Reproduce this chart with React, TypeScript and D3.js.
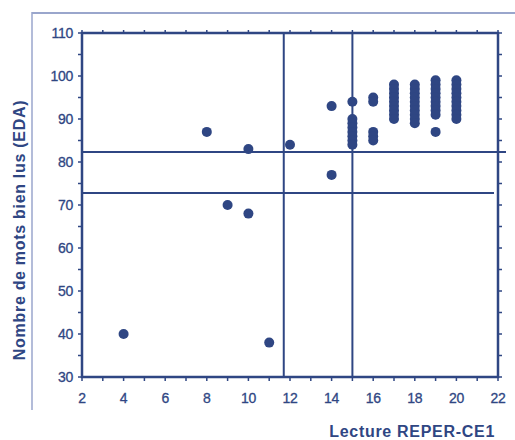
import React from "react";
import * as d3 from "d3";

const width = 515;
const height = 440;
const margin = { top: 33, right: 16, bottom: 63, left: 82 };
const navy = "#2f4683";
const frame = "#9aa6cc";

// [lecture REPER-CE1 score, nombre de mots bien lus]
const isolated: [number, number][] = [
  [4, 40], [8, 87], [9, 70], [10, 83], [10, 68], [11, 38], [12, 84], [14, 93], [14, 77],
  [19, 87],
];
const col15 = [94, 90, 89, 88, 87, 86, 85, 84];
const col16 = [95, 94, 87, 86, 85];
const col17 = [98, 97, 96, 95, 94, 93, 92, 91, 90];
const col18 = [98, 97, 96, 95, 94, 93, 92, 91, 90, 89];
const col19 = [99, 98, 97, 96, 95, 94, 93, 92, 91];
const col20 = [99, 98, 97, 96, 95, 94, 93, 92, 91, 90];

const xTicks = [2, 4, 6, 8, 10, 12, 14, 16, 18, 20, 22];
const yTicks = [30, 40, 50, 60, 70, 80, 90, 100, 110];
const cutX = [11.7, 15];
const cutY = [82.3, 72.8];

const points: [number, number][] = [
  ...isolated,
  ...col15.map((v) => [15, v] as [number, number]),
  ...col16.map((v) => [16, v] as [number, number]),
  ...col17.map((v) => [17, v] as [number, number]),
  ...col18.map((v) => [18, v] as [number, number]),
  ...col19.map((v) => [19, v] as [number, number]),
  ...col20.map((v) => [20, v] as [number, number]),
];

export default function App() {
  const x = d3.scaleLinear().domain([2, 22]).range([margin.left, width - margin.right - 1]);
  const y = d3.scaleLinear().domain([30, 110]).range([height - margin.bottom, margin.top]);
  const x0 = x(2), x1 = x(22), y0 = y(30), y1 = y(110);
  const xMinor = d3.range(2, 23, 1);
  const yMinor = d3.range(30, 111, 5);
  const font = "'Liberation Sans', Arial, sans-serif";

  return (
    <svg width={width} height={height} style={{ position: "absolute", left: 0, top: 0 }}>
      <rect width={width} height={height} fill="#fff" />
      {/* outer frame */}
      <line x1={32} x2={515} y1={13} y2={13} stroke={frame} strokeWidth={2} />
      <line x1={32} x2={32} y1={12} y2={410} stroke={frame} strokeWidth={1.5} />

      {/* ticks */}
      {xMinor.map((t) => (
        <g key={"xt" + t}>
          <line x1={x(t)} x2={x(t)} y1={y0} y2={y0 + 4} stroke={navy} strokeWidth={1.5} />
          <line x1={x(t)} x2={x(t)} y1={y1} y2={y1 - 3} stroke={navy} strokeWidth={1.5} />
        </g>
      ))}
      {yMinor.map((t) => (
        <g key={"yt" + t}>
          <line x1={x0} x2={x0 - 4} y1={y(t)} y2={y(t)} stroke={navy} strokeWidth={1.5} />
          <line x1={x1} x2={x1 + 4} y1={y(t)} y2={y(t)} stroke={navy} strokeWidth={1.5} />
        </g>
      ))}

      {/* reference lines */}
      {cutX.map((c) => (
        <line key={"cx" + c} x1={x(c)} x2={x(c)} y1={y1} y2={y0} stroke={navy} strokeWidth={2} />
      ))}
      <line x1={x0} x2={x1 + 8} y1={y(cutY[0])} y2={y(cutY[0])} stroke={navy} strokeWidth={2} />
      <line x1={x0} x2={x1 - 4} y1={y(cutY[1])} y2={y(cutY[1])} stroke={navy} strokeWidth={2} />

      {/* plot frame */}
      <rect x={x0} y={y1} width={x1 - x0} height={y0 - y1} fill="none" stroke={navy} strokeWidth={2.5} />

      {/* points */}
      {points.map(([a, b], i) => (
        <circle key={i} cx={x(a)} cy={y(b)} r={5} fill={navy} />
      ))}

      {/* tick labels */}
      {xTicks.map((t) => (
        <text key={"xl" + t} x={x(t)} y={y0 + 26} textAnchor="middle" fontFamily={font}
          fontSize={14} letterSpacing={-0.3} fill={navy} stroke={navy} strokeWidth={0.3}>{t}</text>
      ))}
      {yTicks.map((t) => (
        <text key={"yl" + t} x={x0 - 9} y={y(t) + 5} textAnchor="end" fontFamily={font}
          fontSize={14} letterSpacing={-0.3} fill={navy} stroke={navy} strokeWidth={0.3}>{t}</text>
      ))}

      {/* axis titles */}
      <text x={495} y={437} textAnchor="end" fontFamily={font} fontWeight="bold" fontSize={16}
        letterSpacing={0.7} fill={navy}>Lecture REPER-CE1</text>
      <text transform={`translate(25, 230) rotate(-90)`} textAnchor="middle"
        fontFamily={font} fontWeight="bold" fontSize={16} letterSpacing={0.7}
        fill={navy}>Nombre de mots bien lus (EDA)</text>
    </svg>
  );
}
